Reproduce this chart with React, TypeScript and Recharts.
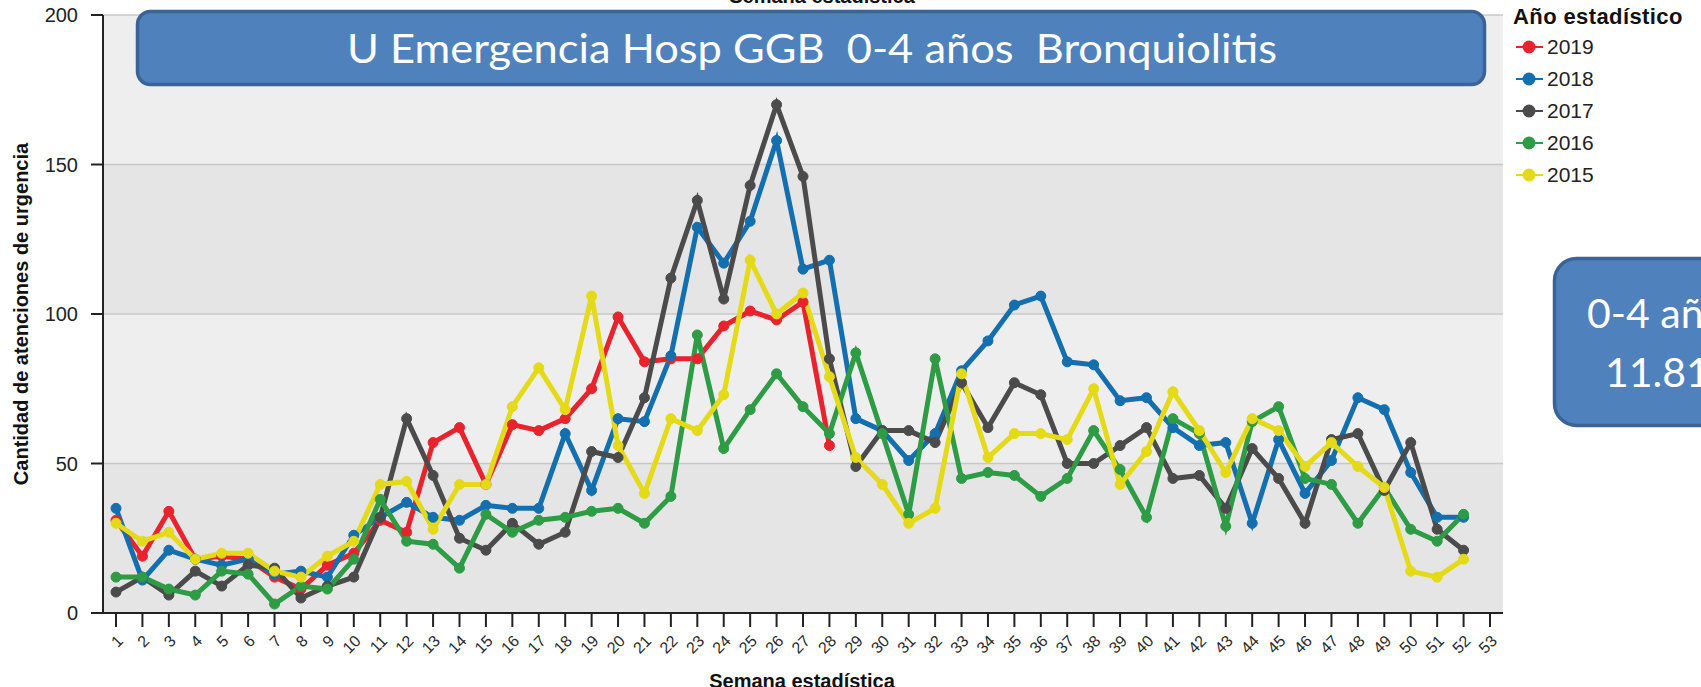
import { LineChart, Line, XAxis, YAxis, CartesianGrid, Legend } from 'recharts'

const FONT = '"Liberation Sans", Arial, sans-serif'

const weeks = ['1', '2', '3', '4', '5', '6', '7', '8', '9', '10', '11', '12', '13', '14', '15', '16', '17', '18', '19', '20', '21', '22', '23', '24', '25', '26', '27', '28', '29', '30', '31', '32', '33', '34', '35', '36', '37', '38', '39', '40', '41', '42', '43', '44', '45', '46', '47', '48', '49', '50', '51', '52', '53']

const y2019 = [31, 19, 34, 18, 19, 18, 12, 8, 16, 20, 31, 27, 57, 62, 43, 63, 61, 65, 75, 99, 84, 85, 85, 96, 101, 98, 104, 56]
const y2018 = [35, 11, 21, 18, 16, 18, 13, 14, 12, 26, 32, 37, 32, 31, 36, 35, 35, 60, 41, 65, 64, 86, 129, 117, 131, 158, 115, 118, 65, 61, 51, 60, 81, 91, 103, 106, 84, 83, 71, 72, 62, 56, 57, 30, 58, 40, 51, 72, 68, 47, 32, 32]
const y2017 = [7, 12, 6, 14, 9, 16, 15, 5, 9, 12, 32, 65, 46, 25, 21, 30, 23, 27, 54, 52, 72, 112, 138, 105, 143, 170, 146, 85, 49, 61, 61, 57, 77, 62, 77, 73, 50, 50, 56, 62, 45, 46, 35, 55, 45, 30, 58, 60, 41, 57, 28, 21]
const y2016 = [12, 12, 8, 6, 14, 13, 3, 9, 8, 18, 38, 24, 23, 15, 33, 27, 31, 32, 34, 35, 30, 39, 93, 55, 68, 80, 69, 60, 87, 60, 33, 85, 45, 47, 46, 39, 45, 61, 48, 32, 65, 60, 29, 64, 69, 45, 43, 30, 42, 28, 24, 33]
const y2015 = [30, 24, 27, 18, 20, 20, 14, 12, 19, 24, 43, 44, 28, 43, 43, 69, 82, 68, 106, 56, 40, 65, 61, 73, 118, 100, 107, 79, 52, 43, 30, 35, 80, 52, 60, 60, 58, 75, 43, 54, 74, 61, 47, 65, 61, 49, 57, 49, 42, 14, 12, 18]

const yTicks = [0, 50, 100, 150, 200]

const series = [
  { key: 'y2019', name: '2019', color: '#E8232D' },
  { key: 'y2018', name: '2018', color: '#146FAF' },
  { key: 'y2017', name: '2017', color: '#4B4B4B' },
  { key: 'y2016', name: '2016', color: '#2E9B45' },
  { key: 'y2015', name: '2015', color: '#E4DA18' },
]

const data = weeks.map((w, i) => ({
  week: w,
  y2019: y2019[i],
  y2018: y2018[i],
  y2017: y2017[i],
  y2016: y2016[i],
  y2015: y2015[i],
}))

function WeekTick(props: any) {
  const { x, y, payload } = props
  const ax = x + 4
  const ay = y + 11
  return (
    <text
      x={ax}
      y={ay}
      dy="0.35em"
      textAnchor="end"
      transform={`rotate(-45 ${ax} ${ay})`}
      fontSize={16}
      fill="#2a2a2a"
      fontFamily={FONT}
    >
      {payload.value}
    </text>
  )
}

function YearLegend() {
  return (
    <div style={{ fontFamily: FONT, color: '#111' }}>
      <div style={{ fontSize: 22, letterSpacing: 0.4, fontWeight: 'bold', height: 29, lineHeight: '29px', whiteSpace: 'nowrap' }}>
        Año estadístico
      </div>
      {series.map((s) => (
        <div key={s.name} style={{ display: 'flex', alignItems: 'center', height: 32 }}>
          <svg width={31} height={16} style={{ marginLeft: 3 }}>
            <line x1={0} y1={8} x2={27} y2={8} stroke={s.color} strokeWidth={2} />
            <circle cx={13} cy={8} r={6.5} fill={s.color} />
          </svg>
          <span style={{ fontSize: 21, color: '#222' }}>{s.name}</span>
        </div>
      ))}
    </div>
  )
}

export default function App() {
  return (
    <div style={{ position: 'absolute', left: 0, top: 0, width: 1701, height: 687, background: '#fff', overflow: 'hidden' }}>
      <LineChart
        width={1701}
        height={687}
        data={data}
        margin={{ top: 15, right: 198, bottom: 14, left: 0 }}
        style={{ fontFamily: FONT }}
      >
        <CartesianGrid
          vertical={false}
          stroke="#C8C8C8"
          strokeWidth={1.5}
          horizontalFill={['#EEEEEE', '#E5E5E5']}
          fillOpacity={1}
        />
        <XAxis
          dataKey="week"
          interval={0}
          height={60}
          padding={{ left: 13, right: 13 }}
          tickSize={14}
          tickMargin={0}
          axisLine={{ stroke: '#222', strokeWidth: 2 }}
          tickLine={{ stroke: '#222', strokeWidth: 2 }}
          tick={<WeekTick />}
          label={{
            content: () => (
              <text x={802} y={688} textAnchor="middle" fontSize={20} fontWeight="bold" fill="#111" fontFamily={FONT}>
                Semana estadística
              </text>
            ),
          }}
        />
        <YAxis
          width={103}
          domain={[0, 200]}
          ticks={yTicks}
          tickSize={12}
          tickMargin={13}
          axisLine={{ stroke: '#222', strokeWidth: 2 }}
          tickLine={{ stroke: '#222', strokeWidth: 2 }}
          tick={{ fontSize: 20, fill: '#222' }}
          label={{
            content: () => (
              <text
                x={21}
                y={314}
                transform="rotate(-90 21 314)"
                textAnchor="middle"
                dominantBaseline="central"
                fontSize={20}
                fontWeight="bold"
                fill="#111"
                fontFamily={FONT}
              >
                Cantidad de atenciones de urgencia
              </text>
            ),
          }}
        />
        <Legend
          content={<YearLegend />}
          layout="vertical"
          align="center"
          verticalAlign="middle"
          wrapperStyle={{ left: 1513, top: 2, width: 188 }}
        />
        {series.map((s) => (
          <Line
            key={s.key}
            dataKey={s.key}
            name={s.name}
            stroke={s.color}
            strokeWidth={5}
            dot={{ r: 5, fill: s.color, stroke: s.color, strokeWidth: 1 }}
            activeDot={false}
            isAnimationActive={false}
          />
        ))}
      </LineChart>

      <svg width={1701} height={687} style={{ position: 'absolute', left: 0, top: 0, pointerEvents: 'none' }}>
        <text x={822} y={3} textAnchor="middle" fontSize={20} fontWeight="bold" fill="#111" fontFamily={FONT}>
          Semana estadística
        </text>
        <rect x={137.5} y={11.5} width={1347} height={73} rx={13} fill="#4F81BD" stroke="#3B6395" strokeWidth={3.5} />
        <text
          x={347}
          y={63}
          fontSize={41}
          fill="#fff"
          fontFamily="Lato, 'Open Sans', sans-serif"
          textLength={930}
          lengthAdjust="spacingAndGlyphs"
          style={{ whiteSpace: 'pre' }}
        >
          U Emergencia Hosp GGB  0-4 años  Bronquiolitis
        </text>
        <rect x={1554.5} y={258.5} width={300} height={167} rx={22} fill="#4F81BD" stroke="#3B6395" strokeWidth={3.5} />
        <text x={1587} y={328} fontSize={41} fill="#fff" fontFamily="Lato, 'Open Sans', sans-serif">
          0-4 años
        </text>
        <text x={1605} y={387} fontSize={41} fill="#fff" fontFamily="Lato, 'Open Sans', sans-serif">
          11.81
        </text>
      </svg>
    </div>
  )
}
